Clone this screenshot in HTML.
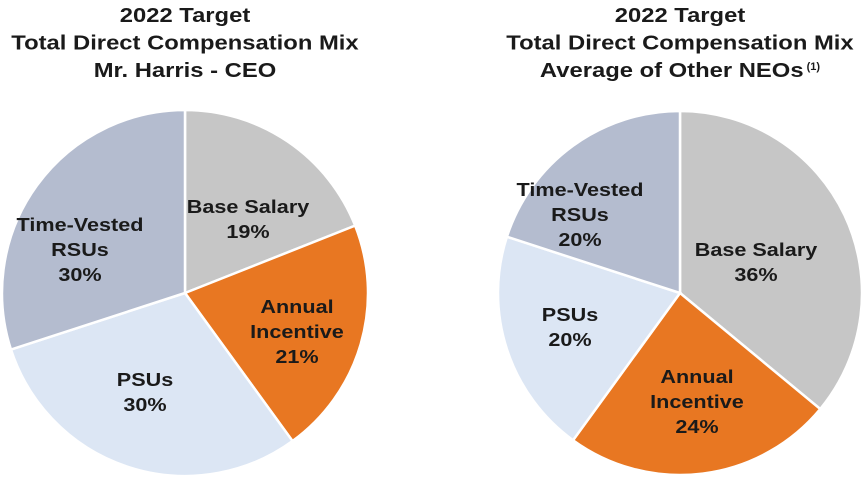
<!DOCTYPE html>
<html><head><meta charset="utf-8"><style>
body{margin:0;background:#fff;width:864px;height:480px;overflow:hidden;font-family:"Liberation Sans",Arial,sans-serif}
svg text{font-family:"Liberation Sans",Arial,sans-serif;font-weight:bold;fill:#1a1a1a}
</style></head><body>
<svg id="chart" width="864" height="480"></svg>
<script>
const categories=["Base Salary","Annual Incentive","PSUs","Time-Vested RSUs"];
const ceoValues=[19,21,30,30];
const neoValues=[36,24,20,20];
const colors=["#c6c6c6","#e87722","#dce6f4","#b4bccf"];
const ceoLabels=[["Base Salary","19%"],["Annual","Incentive","21%"],["PSUs","30%"],["Time-Vested","RSUs","30%"]];
const neoLabels=[["Base Salary","36%"],["Annual","Incentive","24%"],["PSUs","20%"],["Time-Vested","RSUs","20%"]];
const ceoLabelPos=[[248,213],[297,313],[145,386],[80,231]];
const neoLabelPos=[[756,256],[697,383],[570,321],[580,196]];
const NS="http://www.w3.org/2000/svg";
const svg=document.getElementById('chart');
function mk(t,a){const e=document.createElementNS(NS,t);for(const k in a)e.setAttribute(k,a[k]);return e;}
function stretch(el,f){const L=el.getComputedTextLength();el.setAttribute('textLength',L*f);el.setAttribute('lengthAdjust','spacingAndGlyphs');}
function title(cx,lines,id){
  lines.forEach((l,i)=>{const t=mk('text',{x:cx,y:22+i*27.5,'text-anchor':'middle','font-size':20});
  
  
  const m=mk('tspan',{});m.textContent=l[0];t.appendChild(m);
  svg.appendChild(t);stretch(m,1.19);
  if(l[1]){const s=mk('tspan',{'font-size':11,dy:-7});s.textContent=' '+l[1];t.appendChild(s);}
  });
}
function pie(cx,cy,r,vals,labels,pos,id){
  const g=mk('g',{});
  
  
  svg.appendChild(g);
  const tot=vals.reduce((a,b)=>a+b,0);let a0=-Math.PI/2;
  vals.forEach((v,i)=>{const a1=a0+v/tot*2*Math.PI;
    const x0=cx+r*Math.cos(a0),y0=cy+r*Math.sin(a0),x1=cx+r*Math.cos(a1),y1=cy+r*Math.sin(a1);
    const p=mk('path',{d:`M${cx},${cy}L${x0},${y0}A${r},${r} 0 ${a1-a0>Math.PI?1:0} 1 ${x1},${y1}Z`,fill:colors[i],stroke:'#fff','stroke-width':2.5});
    
    
    g.appendChild(p);a0=a1;});
  labels.forEach((ls,i)=>{
    ls.forEach((l,j)=>{const t=mk('text',{'text-anchor':'middle','font-size':18,x:pos[i][0],y:pos[i][1]+j*25});
      
      
      t.textContent=l;g.appendChild(t);stretch(t,1.2);});});
}
title(185,[["2022 Target"],["Total Direct Compensation Mix"],["Mr. Harris - CEO"]],'ceo');
title(680,[["2022 Target"],["Total Direct Compensation Mix"],["Average of Other NEOs","(1)"]],'neo');
pie(185,293,183,ceoValues,ceoLabels,ceoLabelPos,'ceo');
pie(680,293,182,neoValues,neoLabels,neoLabelPos,'neo');
</script>
</body></html>
